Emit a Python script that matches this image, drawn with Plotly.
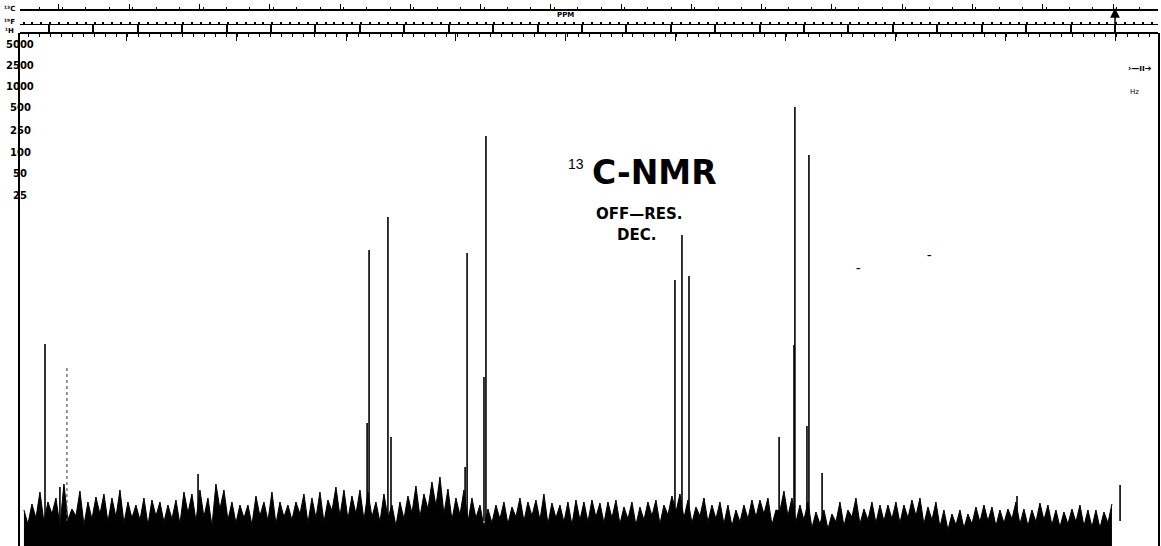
import numpy as np
import plotly.graph_objects as go

# ---------------- data ----------------
# noise band: crest heights sampled every 36.5 Hz from 4982 Hz downwards,
# and the notch depths that lie half-way between neighbouring crests
noise_start_hz = 4982.0
noise_step_hz = 36.485
noise_top = [36, 42, 54, 44, 48, 62, 37, 55, 44, 49,
             52, 48, 56, 44, 41, 48, 46, 44, 41, 46,
             54, 52, 56, 48, 62, 56, 44, 41, 41, 50,
             44, 54, 44, 41, 44, 52, 48, 54, 46, 59,
             56, 50, 56, 54, 44, 52, 41, 44, 50, 60,
             52, 64, 69, 57, 48, 56, 48, 41, 37, 41,
             44, 39, 48, 44, 46, 52, 43, 41, 44, 46,
             44, 46, 43, 44, 46, 39, 44, 39, 44, 46,
             41, 50, 52, 46, 39, 48, 41, 44, 41, 36,
             41, 46, 46, 48, 36, 55, 48, 41, 44, 34,
             36, 32, 44, 36, 48, 37, 44, 41, 41, 44,
             41, 46, 48, 39, 44, 36, 32, 36, 32, 39,
             41, 39, 36, 37, 44, 37, 36, 43, 41, 36,
             34, 37, 41, 36, 36, 34, 42]
noise_dip = [22, 28, 24, 32, 20, 26, 30, 21, 27, 32,
             24, 29, 23, 28, 26, 21, 30, 24, 27, 22,
             33, 25, 29, 20, 37, 26, 23, 28, 21, 30,
             25, 22, 29, 26, 32, 23, 28, 24, 35, 30,
             27, 32, 26, 29, 24, 28, 20, 27, 33, 29,
             37, 40, 32, 26, 31, 24, 28, 19, 23, 27,
             22, 29, 25, 30, 26, 22, 28, 24, 21, 26,
             24, 29, 23, 28, 22, 27, 21, 26, 30, 22,
             31, 34, 28, 23, 30, 24, 27, 22, 20, 24,
             27, 29, 32, 21, 35, 30, 24, 26, 18, 22,
             17, 24, 20, 29, 22, 26, 23, 25, 27, 23,
             28, 30, 22, 26, 19, 16, 21, 18, 22, 24,
             25, 20, 23, 27, 22, 20, 24, 26, 21, 19,
             22, 24, 20, 19, 18, 23]

# resonance lines (Hz from TMS) and their heights (arbitrary intensity)
peak_hz = [4886, 4818, 4188, 3417, 3408, 3322, 3308, 2970, 2961, 2884, 2875,
           2013, 1981, 1949, 1881, 1538, 1470, 1466, 1411, 1402, 1342, 453, -17]
peak_height = [202, 59, 72, 123, 296, 329, 109, 79, 293, 169, 410,
               266, 311, 270, 47, 109, 201, 439, 120, 391, 73, 50, 61]
faint_peak_hz = [4786]
faint_peak_height = [181]
stick_base = 25

sweep_labels = ["5000", "2500", "1000", "500", "250", "100", "50", "25"]

# ---------------- figure ----------------
W, H = 1161, 546
X_RANGE = [5000, -190]
Y_RANGE = [0, 513]
TOP_DOMAIN = 1 - 33 / H


def py(p):
    return 1 - p / H


nx, ny = [], []
for i, top in enumerate(noise_top):
    x0 = noise_start_hz - i * noise_step_hz
    nx.append(x0)
    ny.append(top)
    if i < len(noise_dip):
        nx.append(x0 - noise_step_hz / 2)
        ny.append(noise_dip[i])

fig = go.Figure()

fig.add_trace(go.Scatter(
    x=nx, y=ny, mode="lines", fill="tozeroy",
    line=dict(color="black", width=1.0), fillcolor="black",
    hoverinfo="skip", showlegend=False))

sx, sy = [], []
for hz, h in zip(peak_hz, peak_height):
    sx += [hz, hz, None]
    sy += [stick_base, h, None]
fig.add_trace(go.Scatter(x=sx, y=sy, mode="lines",
                         line=dict(color="black", width=1.6),
                         hoverinfo="skip", showlegend=False))

fx, fy = [], []
for hz, h in zip(faint_peak_hz, faint_peak_height):
    fx += [hz, hz, None]
    fy += [stick_base, h, None]
fig.add_trace(go.Scatter(x=fx, y=fy, mode="lines",
                         line=dict(color="#555555", width=1.2, dash="dot"),
                         hoverinfo="skip", showlegend=False))

# dummy traces so the ruler axes are drawn
for ax in ["x2", "x3", "x4"]:
    fig.add_trace(go.Scatter(x=[2000], y=[100], xaxis=ax, yaxis="y",
                             mode="markers", marker=dict(opacity=0),
                             hoverinfo="skip", showlegend=False))

ruler_common = dict(overlaying="x", anchor="free", range=X_RANGE,
                    showgrid=False, zeroline=False, showticklabels=False,
                    showline=True, linecolor="black", tickcolor="black")

fig.update_layout(
    width=W, height=H,
    margin=dict(l=20, r=3, t=0, b=0),
    paper_bgcolor="white", plot_bgcolor="white",
    xaxis=dict(range=X_RANGE, showline=False, showgrid=False, zeroline=False,
               showticklabels=False, ticks=""),
    yaxis=dict(range=Y_RANGE, domain=[0, TOP_DOMAIN], showline=True,
               mirror=True, linecolor="black", linewidth=1.5,
               showgrid=False, zeroline=False, showticklabels=False, ticks=""),
    xaxis2=dict(**ruler_common, position=py(10), side="top", linewidth=1.5,
                ticks="outside", ticklen=5, tickwidth=1,
                tick0=15, dtick=320.5,
                minor=dict(ticks="outside", ticklen=2, dtick=106.8,
                           tickcolor="black")),
    xaxis3=dict(**ruler_common, position=py(24), side="bottom", linewidth=1.3,
                ticks="outside", ticklen=9, tickwidth=1.6,
                tick0=6, dtick=202.6,
                minor=dict(ticks="inside", ticklen=2, dtick=40.52,
                           tickcolor="black")),
    xaxis4=dict(**ruler_common, position=TOP_DOMAIN, side="bottom",
                linewidth=1.5, ticks="outside", ticklen=7, tickwidth=1.2,
                tick0=6, dtick=501,
                minor=dict(ticks="outside", ticklen=3, dtick=50.1,
                           tickcolor="black")),
)

ann = []
label_py = [44, 65, 86, 108, 130, 152, 173, 195]
for lab, p in zip(sweep_labels, label_py):
    ann.append(dict(text="<b>%s</b>" % lab, xref="paper", yref="paper",
                    x=0, y=py(p), xanchor="center", yanchor="middle",
                    showarrow=False,
                    font=dict(family="DejaVu Sans", size=10, color="black")))

for txt, p in [("\u00b9\u00b3C", 9), ("\u00b9\u2079F", 22), ("\u00b9H", 31)]:
    ann.append(dict(text="<b>%s</b>" % txt, xref="paper", yref="paper",
                    x=(9 - 20) / 1138, y=py(p), xanchor="center",
                    yanchor="middle", showarrow=False,
                    font=dict(family="DejaVu Sans", size=7, color="black")))

ann.append(dict(text="<b>PPM</b>", xref="paper", yref="paper",
                x=(565 - 20) / 1138, y=py(15), xanchor="center",
                yanchor="middle", showarrow=False,
                font=dict(family="DejaVu Sans", size=7, color="black")))

# TMS reference arrow
ann.append(dict(text=" ", x=6, xref="x", y=py(8), yref="paper",
                showarrow=True, ax=0, ay=36, arrowhead=2, arrowsize=1.3,
                arrowwidth=1.5, arrowcolor="black"))

# title block
ann.append(dict(text="13", xref="paper", yref="paper",
                x=(576 - 20) / 1138, y=py(164), xanchor="center",
                yanchor="middle", showarrow=False,
                font=dict(family="Liberation Sans", size=14, color="black")))
ann.append(dict(text="<b>C-NMR</b>", xref="paper", yref="paper",
                x=(654 - 20) / 1138, y=py(172), xanchor="center",
                yanchor="middle", showarrow=False,
                font=dict(family="DejaVu Sans", size=33, color="black")))
ann.append(dict(text="<b>OFF\u2014RES.</b>", xref="paper", yref="paper",
                x=(639 - 20) / 1138, y=py(214), xanchor="center",
                yanchor="middle", showarrow=False,
                font=dict(family="DejaVu Sans", size=15, color="black")))
ann.append(dict(text="<b>DEC.</b>", xref="paper", yref="paper",
                x=(636 - 20) / 1138, y=py(235), xanchor="center",
                yanchor="middle", showarrow=False,
                font=dict(family="DejaVu Sans", size=15, color="black")))

# right-hand scale marker
ann.append(dict(text="<b>\u203a\u2014\u0131\u0131\u2794</b>", xref="paper",
                yref="paper", x=(1140 - 20) / 1138, y=py(68),
                xanchor="center", yanchor="middle", showarrow=False,
                font=dict(family="DejaVu Sans", size=8, color="black")))
ann.append(dict(text="Hz", xref="paper", yref="paper",
                x=(1134 - 20) / 1138, y=py(92), xanchor="center",
                yanchor="middle", showarrow=False,
                font=dict(family="DejaVu Sans", size=7, color="black")))

# stray marks on the chart paper
for hz, yv in [(1178, 278), (850, 291)]:
    ann.append(dict(text="<b>\u2013</b>", x=hz, y=yv, xref="x", yref="y",
                    showarrow=False,
                    font=dict(family="DejaVu Sans", size=9, color="black")))

fig.update_layout(annotations=ann)

fig.write_html("out.html")
